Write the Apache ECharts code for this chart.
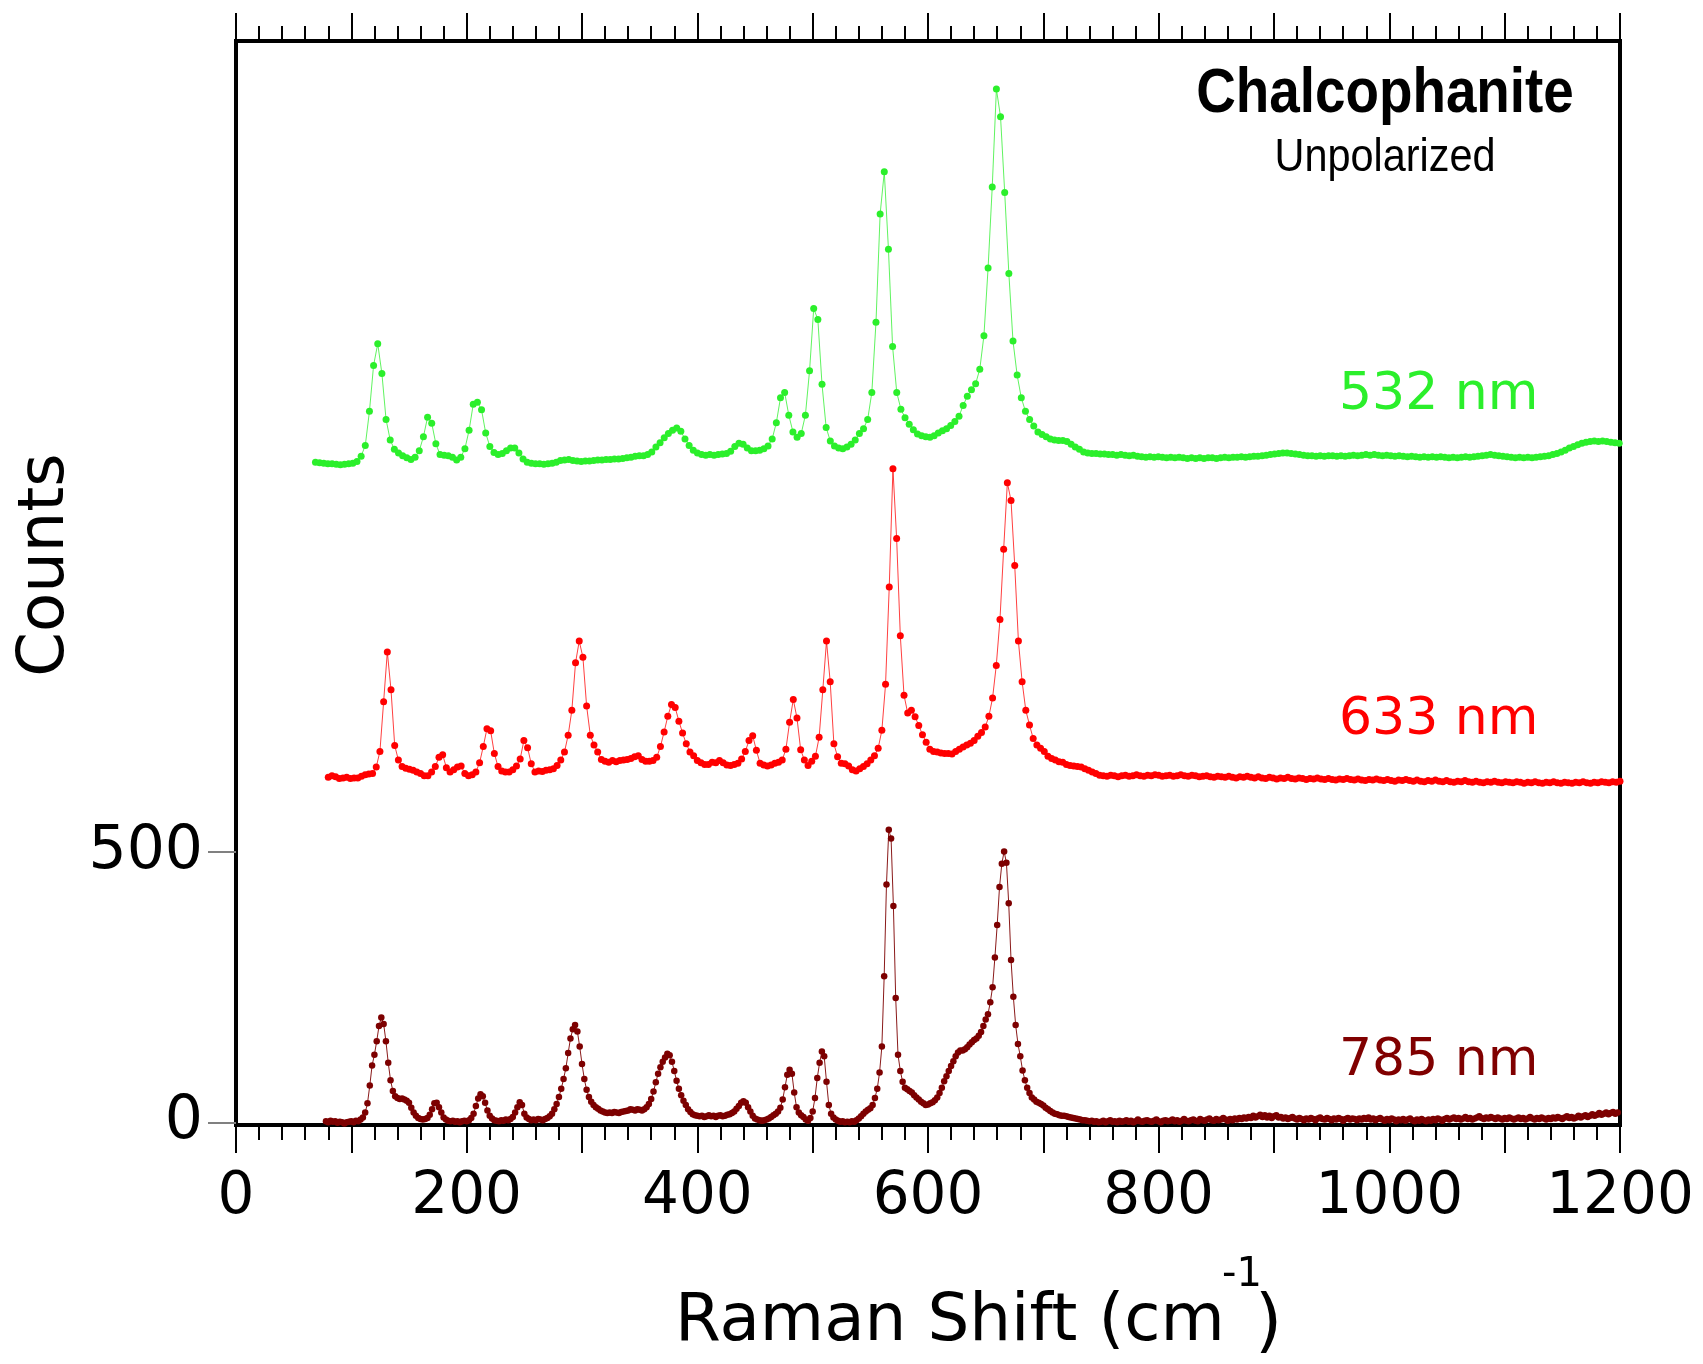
<!DOCTYPE html>
<html>
<head>
<meta charset="utf-8">
<script src="https://cdn.jsdelivr.net/npm/echarts@6.0.0/dist/echarts.min.js"></script>
<style>
html,body{margin:0;padding:0;background:#fff;}
#chart{width:1703px;height:1364px;}
</style>
</head>
<body>
<div id="chart"></div>
<script>
// ---------------- DATA ----------------
const titleText = 'Chalcophanite';
const subtitleText = 'Unpolarized';
const seriesNames = ['532 nm', '633 nm', '785 nm'];
const yTickValues = [0, 500];
const xRange = [0, 1200];
const yRange = [-5, 2000];

// 532 nm : Raman shift sampled from 68.9 cm-1 every 3.6 cm-1
const g532Start = 68.9, g532Step = 3.6;
const g532 = [
1221,1220,1219,1218,1218,1217,1216,1217,1218,1219,
1222,1232,1252,1315,1400,1440,1385,1300,1262,1245,
1238,1233,1229,1226,1230,1242,1268,1304,1293,1255,
1235,1234,1233,1230,1225,1230,1246,1280,1328,1332,
1318,1275,1250,1239,1235,1237,1242,1247,1247,1238,
1227,1221,1219,1218,1218,1217,1218,1219,1221,1224,
1225,1226,1224,1223,1222,1223,1223,1224,1225,1225,
1226,1226,1227,1227,1228,1229,1230,1232,1233,1233,
1235,1240,1249,1257,1266,1274,1280,1284,1278,1264,
1252,1243,1238,1235,1234,1235,1234,1235,1236,1237,
1241,1250,1256,1254,1247,1242,1242,1243,1246,1251,
1264,1294,1340,1350,1308,1277,1267,1274,1308,1390,
1505,1485,1365,1285,1260,1251,1247,1246,1249,1254,
1262,1274,1283,1300,1350,1480,1680,1758,1615,1435,
1350,1319,1303,1291,1281,1273,1270,1268,1267,1270,
1275,1279,1283,1289,1296,1306,1326,1343,1355,1366,
1393,1455,1580,1730,1911,1860,1720,1570,1445,1382,
1340,1315,1300,1288,1277,1272,1268,1264,1262,1261,
1261,1259,1254,1249,1245,1240,1238,1237,1237,1236,
1236,1235,1235,1234,1235,1234,1233,1234,1232,1231,
1230,1231,1230,1231,1230,1229,1230,1229,1230,1229,
1228,1229,1228,1229,1228,1229,1229,1228,1229,1230,
1229,1230,1230,1231,1230,1231,1232,1232,1233,1234,
1235,1236,1237,1238,1238,1237,1236,1235,1234,1233,
1233,1232,1233,1232,1233,1233,1232,1233,1232,1233,
1234,1233,1234,1235,1234,1235,1234,1233,1234,1233,
1232,1233,1232,1231,1232,1231,1230,1231,1230,1231,
1230,1231,1230,1229,1230,1229,1230,1231,1230,1231,
1232,1233,1234,1235,1234,1233,1232,1231,1230,1229,
1230,1229,1230,1229,1230,1231,1232,1233,1235,1237,
1240,1243,1247,1250,1253,1256,1258,1259,1260,1259,
1260,1259,1258,1257,1256
];

// 633 nm : sampled from 80 cm-1 every 3.2 cm-1
const r633Start = 80, r633Step = 3.2;
const r633 = [
638,641,639,636,637,638,636,637,637,640,
643,644,645,657,686,778,870,800,697,670,
658,655,653,651,648,645,641,641,648,658,
675,680,656,648,652,657,659,645,641,643,
648,665,695,728,724,682,658,650,648,648,
652,659,672,706,693,663,648,650,649,651,
652,654,660,670,685,716,762,850,890,860,
770,716,698,685,671,668,666,669,667,669,
670,671,673,676,678,671,668,668,669,675,
695,722,751,773,767,742,720,700,685,678,
669,665,662,662,666,665,669,665,661,660,
662,664,672,686,706,715,688,664,661,659,
661,664,666,670,690,740,782,748,689,670,
660,668,677,712,800,890,815,700,676,664,
663,659,652,650,654,658,663,670,678,692,
725,810,990,1209,1080,900,790,757,762,750,
734,717,703,690,686,685,683,682,682,681,
686,690,694,698,701,706,714,721,731,751,
785,845,930,1060,1183,1150,1030,890,815,762,
735,710,698,692,686,677,673,670,667,666,
662,660,659,658,657,654,651,648,645,642,
641,640,642,641,639,641,642,640,641,643,
641,640,642,641,643,642,640,641,642,640,
641,643,641,640,642,641,639,640,641,639,
638,640,639,638,640,638,637,639,638,640,
638,637,639,637,636,638,637,635,637,636,
638,636,635,637,636,634,636,635,637,635,
634,636,634,633,635,634,636,634,633,635,
633,632,634,633,635,633,632,634,632,631,
633,632,634,632,631,633,631,630,632,631,
633,631,630,632,630,629,631,630,632,630,
629,631,629,628,630,629,631,629,628,630,
629,628,630,629,627,629,628,630,628,627,
629,628,630,628,627,629,628,627,629,628,
630,628,627,629,628,630,629,628,630,629,
631
];

// 785 nm : sampled from 78 cm-1 every 2 cm-1
const d785Start = 78, d785Step = 2;
const d785 = [
2,0,3,1,2,-1,1,0,-2,0,
1,2,0,3,2,5,9,18,35,68,
105,125,150,178,194,182,150,110,78,58,
48,45,43,44,42,40,36,27,18,12,
8,6,5,6,8,14,24,35,36,28,
18,9,5,3,2,3,1,2,0,2,
3,2,4,8,16,30,44,52,48,36,
22,12,7,4,3,2,4,3,5,4,
6,10,18,28,37,32,16,9,6,4,
5,4,6,5,4,6,8,11,16,24,
34,47,62,80,100,128,155,172,180,168,
140,108,80,60,47,38,32,28,25,22,
20,18,17,18,17,19,18,17,19,20,
21,22,24,23,22,24,23,22,24,28,
34,43,57,74,90,102,112,120,127,124,
112,95,77,62,50,40,32,24,19,15,
13,12,11,12,10,11,13,11,12,10,
12,13,11,12,14,15,17,20,25,30,
36,39,36,28,20,12,7,5,4,3,
4,5,7,10,13,16,20,27,42,65,
88,97,90,55,28,18,13,10,5,3,
8,20,45,82,110,131,122,75,32,16,
9,5,3,1,2,0,1,0,2,1,
4,7,11,16,20,23,26,32,45,62,
92,140,270,440,541,525,400,230,125,95,
75,64,61,58,55,50,46,42,38,35,
32,33,35,37,41,46,54,64,76,85,
95,104,113,122,129,133,133,135,139,144,
148,152,155,160,167,178,190,200,222,250,
305,365,435,478,501,480,405,300,232,180,
145,122,96,78,64,54,46,42,38,36,
34,31,27,24,21,18,16,15,13,12,
12,11,10,9,8,7,6,5,4,4,
3,2,3,1,2,0,1,3,0,2,
4,1,2,0,3,1,2,4,1,3,
0,2,5,2,1,3,4,2,1,3,
5,2,0,3,4,2,3,5,2,4,
1,3,6,3,2,4,5,3,2,6,
4,3,5,7,4,3,6,4,5,8,
5,3,6,4,7,5,8,6,9,7,
10,8,12,9,11,14,10,13,9,12,
8,11,13,9,10,7,9,6,8,10,
7,5,8,6,4,7,5,8,6,4,
7,9,6,5,8,6,4,7,5,8,
6,3,6,8,5,7,6,4,7,5,
8,6,9,5,7,4,6,8,5,3,
6,4,7,5,2,5,4,6,3,5,
7,4,2,5,3,6,4,2,5,3,
6,4,7,5,3,6,8,5,7,9,
6,8,5,7,10,6,8,5,7,9,
11,8,6,9,7,10,8,6,9,7,
5,8,6,9,7,5,7,9,6,8,
5,7,10,7,5,8,6,9,7,5,
8,6,9,7,10,8,6,9,11,8,
10,7,9,12,9,11,13,10,12,15,
12,14,17,14,16,18,15,17,19,16,
18
];

// ---------------- BUILD ----------------
function pairs(x0, step, ys) {
  return ys.map((y, i) => [Math.round((x0 + step * i) * 100) / 100, y]);
}
const colors = ['#2bef2b', '#ff0000', '#7d0000'];
const labelColors = ['#2bef2b', '#ff0000', '#800000'];
const FONT = '"DejaVu Sans", sans-serif';

function lineSeries(name, data, color, size, lineOpacity) {
  return {
    name: name, type: 'line', data: data,
    symbol: 'circle', symbolSize: size, showSymbol: true,
    itemStyle: { color: color },
    lineStyle: { color: color, width: 1, opacity: lineOpacity },
    emphasis: { disabled: true },
    silent: true, animation: false, clip: true
  };
}

const axisTickStyle = { show: true, inside: false, length: 28, lineStyle: { color: '#000', width: 2 } };
const minorTickStyle = { show: true, splitNumber: 5, length: 15, lineStyle: { color: '#000', width: 2 } };

const chart = echarts.init(document.getElementById('chart'), null, { renderer: 'canvas' });
chart.setOption({
  animation: false,
  backgroundColor: '#fff',
  grid: { left: 236, right: 83, top: 41, bottom: 239, show: true, borderColor: '#000', borderWidth: 4, backgroundColor: 'rgba(0,0,0,0)' },
  xAxis: [
    {
      type: 'value', min: xRange[0], max: xRange[1], interval: 100, position: 'bottom',
      axisLine: { show: true, onZero: false, lineStyle: { color: '#000', width: 4 } },
      axisTick: axisTickStyle, minorTick: minorTickStyle,
      splitLine: { show: false }, minorSplitLine: { show: false },
      axisLabel: { show: true, margin: 44, fontSize: 58, fontFamily: FONT, color: '#000',
        formatter: v => (v % 200 === 0 ? String(v) : '') }
    },
    {
      type: 'value', min: xRange[0], max: xRange[1], interval: 100, position: 'top',
      axisLine: { show: true, onZero: false, lineStyle: { color: '#000', width: 4 } },
      axisTick: axisTickStyle, minorTick: minorTickStyle,
      splitLine: { show: false }, axisLabel: { show: false }
    }
  ],
  yAxis: {
    type: 'value', min: yRange[0], max: yRange[1],
    axisLine: { show: true, onZero: false, lineStyle: { color: '#000', width: 4 } },
    axisTick: { show: true, inside: false, length: 28, customValues: yTickValues, lineStyle: { color: '#808080', width: 2 } },
    axisLabel: { show: true, margin: 33, fontSize: 60, fontFamily: FONT, color: '#000', customValues: yTickValues },
    splitLine: { show: false }
  },
  series: [
    lineSeries(seriesNames[0], pairs(g532Start, g532Step, g532), colors[0], 7, 0.75),
    lineSeries(seriesNames[1], pairs(r633Start, r633Step, r633), colors[1], 7, 0.75),
    lineSeries(seriesNames[2], pairs(d785Start, d785Step, d785), colors[2], 6.5, 0.9)
  ],
  graphic: [
    { type: 'text', x: 1385, y: 95, scaleX: 0.87, style: { text: titleText, font: 'bold 63px "Liberation Sans", sans-serif', fill: '#000', textAlign: 'center', textVerticalAlign: 'middle', align: 'center', verticalAlign: 'middle' } },
    { type: 'text', x: 1385, y: 158, scaleX: 0.9, style: { text: subtitleText, font: '46px "Liberation Sans", sans-serif', fill: '#000', textAlign: 'center', textVerticalAlign: 'middle', align: 'center', verticalAlign: 'middle' } },
    { type: 'text', x: 1339, y: 395, style: { text: seriesNames[0], font: '52px ' + FONT, fill: labelColors[0], textAlign: 'left', textVerticalAlign: 'middle', align: 'left', verticalAlign: 'middle' } },
    { type: 'text', x: 1339, y: 720, style: { text: seriesNames[1], font: '52px ' + FONT, fill: labelColors[1], textAlign: 'left', textVerticalAlign: 'middle', align: 'left', verticalAlign: 'middle' } },
    { type: 'text', x: 1339, y: 1061, style: { text: seriesNames[2], font: '52px ' + FONT, fill: labelColors[2], textAlign: 'left', textVerticalAlign: 'middle', align: 'left', verticalAlign: 'middle' } },
    { type: 'text', x: 46, y: 565, rotation: Math.PI / 2, style: { text: 'Counts', font: '64px ' + FONT, fill: '#000', textAlign: 'center', textVerticalAlign: 'middle', align: 'center', verticalAlign: 'middle' } },
    { type: 'text', x: 675, y: 1323, style: { text: 'Raman Shift (cm', font: '66px ' + FONT, fill: '#000', textAlign: 'left', textVerticalAlign: 'middle', align: 'left', verticalAlign: 'middle' } },
    { type: 'text', x: 1222, y: 1276, style: { text: '-1', font: '40px ' + FONT, fill: '#000', textAlign: 'left', textVerticalAlign: 'middle', align: 'left', verticalAlign: 'middle' } },
    { type: 'text', x: 1255, y: 1326, style: { text: ')', font: '70px ' + FONT, fill: '#000', textAlign: 'left', textVerticalAlign: 'middle', align: 'left', verticalAlign: 'middle' } }
  ]
});
</script>
</body>
</html>
